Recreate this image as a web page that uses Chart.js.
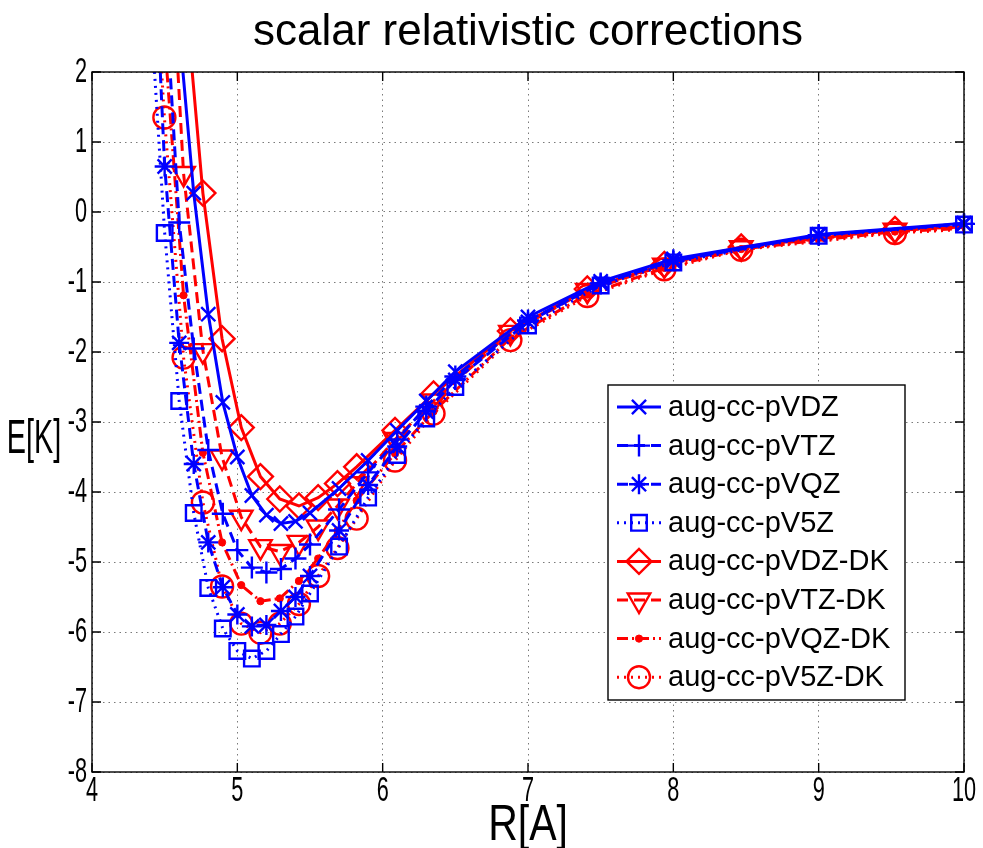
<!DOCTYPE html>
<html>
<head>
<meta charset="utf-8">
<script src="https://cdn.jsdelivr.net/npm/chart.js@4/dist/chart.umd.min.js"></script>
<style>
  html, body { margin: 0; padding: 0; background: #fff; }
  canvas { display: block; }
</style>
</head>
<body>
<canvas id="chart" width="983" height="848"></canvas>
<script>
// ── Data ─────────────────────────────────────────────────────────────────────

// non-relativistic basis sets: grid in Angstrom
const R_PLAIN = [4.4, 4.5, 4.6, 4.7, 4.8, 4.9, 5.0, 5.1, 5.2, 5.3, 5.4, 5.5,
                 5.7, 5.9, 6.1, 6.3, 6.5, 7.0, 7.5, 8.0, 9.0, 10.0];
const E_VDZ = [9.0, 5.5, 2.6, 0.27, -1.46, -2.72, -3.5, -4.05, -4.33, -4.45, -4.42, -4.3,
               -3.95, -3.55, -3.12, -2.7, -2.28, -1.5, -0.99, -0.67, -0.32, -0.16];
const E_VTZ = [7.0, 3.3, -0.15, -1.95, -3.4, -4.31, -4.83, -5.08, -5.15, -5.1, -4.95, -4.75,
               -4.25, -3.72, -3.25, -2.78, -2.35, -1.55, -1.02, -0.69, -0.33, -0.17];
const E_VQZ = [5.15, 0.65, -1.87, -3.6, -4.72, -5.36, -5.75, -5.92, -5.9, -5.7, -5.5, -5.2,
               -4.55, -3.9, -3.35, -2.85, -2.4, -1.57, -1.02, -0.7, -0.33, -0.17];
const E_V5Z = [3.0, -0.3, -2.7, -4.3, -5.37, -5.95, -6.27, -6.38, -6.27, -6.03, -5.78, -5.45,
               -4.78, -4.08, -3.47, -2.95, -2.5, -1.62, -1.05, -0.72, -0.34, -0.18];

// Douglas-Kroll basis sets: grid in bohr converted to Angstrom
const R_DK = [4.366, 4.498, 4.630, 4.763, 4.895, 5.027, 5.159, 5.292, 5.424, 5.556,
              5.689, 5.821, 6.085, 6.350, 6.879, 7.408, 7.938, 8.467, 9.525, 10.583];
const E_VDZ_DK = [12.0, 7.0, 3.4, 0.27, -1.81, -3.08, -3.78, -4.1, -4.2, -4.08,
                  -3.88, -3.64, -3.12, -2.6, -1.7, -1.1, -0.75, -0.5, -0.25, -0.17];
const E_VTZ_DK = [10.0, 5.5, 0.55, -1.98, -3.5, -4.36, -4.78, -4.85, -4.72, -4.5,
                  -4.2, -3.88, -3.25, -2.7, -1.72, -1.12, -0.76, -0.51, -0.26, -0.17];
const E_VQZ_DK = [8.0, 2.5, -1.19, -3.44, -4.72, -5.33, -5.56, -5.52, -5.27, -4.95,
                  -4.55, -4.12, -3.45, -2.85, -1.8, -1.18, -0.8, -0.53, -0.28, -0.18];
const E_V5Z_DK = [6.0, 1.35, -2.08, -4.15, -5.35, -5.88, -6.01, -5.88, -5.6, -5.2,
                  -4.8, -4.38, -3.55, -2.88, -1.83, -1.2, -0.82, -0.54, -0.3, -0.19];

const LABELS = ['aug-cc-pVDZ', 'aug-cc-pVTZ', 'aug-cc-pVQZ', 'aug-cc-pV5Z',
                'aug-cc-pVDZ-DK', 'aug-cc-pVTZ-DK', 'aug-cc-pVQZ-DK', 'aug-cc-pV5Z-DK'];
const X_TICKS = [4, 5, 6, 7, 8, 9, 10];
const Y_TICKS = [2, 1, 0, -1, -2, -3, -4, -5, -6, -7, -8];

// ── Styles ───────────────────────────────────────────────────────────────────

const BLUE = '#0000FF';
const RED = '#FF0000';
const FONT = '"Liberation Sans", Arial, sans-serif';
const NONE = 'rgba(0,0,0,0)';

const SOLID = [];
const DASHED = [11, 6];
const DOTTED = [2, 5];
const DASHDOT = [11, 4, 2, 4];
const NO_CLIP_RIGHT = { left: 0, top: 0, right: 0, bottom: 0 };

function pairs(xs, ys) {
    return xs.map((x, i) => ({ x: x, y: ys[i] }));
}

function series(label, xs, ys, color, dash, marker, radius, extra) {
    return Object.assign({
        label: label,
        data: pairs(xs, ys),
        showLine: true,
        borderColor: color,
        backgroundColor: NONE,
        borderWidth: 3,
        borderDash: dash,
        pointStyle: marker,
        pointRadius: radius,
        pointBorderWidth: 2.4,
        pointBorderColor: color,
        pointBackgroundColor: NONE,
        pointRotation: 0,
        clip: { left: 0, top: 0, right: 16, bottom: 0 }
    }, extra || {});
}

const datasets = [
    series(LABELS[0], R_PLAIN, E_VDZ, BLUE, SOLID, 'crossRot', 10),
    series(LABELS[1], R_PLAIN, E_VTZ, BLUE, DASHED, 'cross', 11),
    series(LABELS[2], R_PLAIN, E_VQZ, BLUE, DASHED, 'star', 10),
    series(LABELS[3], R_PLAIN, E_V5Z, BLUE, DOTTED, 'rect', 11),
    series(LABELS[4], R_DK, E_VDZ_DK, RED, SOLID, 'rectRot', 12.5, { clip: NO_CLIP_RIGHT }),
    series(LABELS[5], R_DK, E_VTZ_DK, RED, DASHED, 'triangle', 13, { pointRotation: 180, clip: NO_CLIP_RIGHT }),
    series(LABELS[6], R_DK, E_VQZ_DK, RED, DASHDOT, 'circle', 3.6, { pointBackgroundColor: RED, pointBorderWidth: 1, clip: NO_CLIP_RIGHT }),
    series(LABELS[7], R_DK, E_V5Z_DK, RED, DOTTED, 'circle', 11, { clip: NO_CLIP_RIGHT })
];

// ── Text helpers ─────────────────────────────────────────────────────────────

function narrowText(ctx, text, x, y, size, squeeze, align) {
    ctx.save();
    ctx.translate(x, y);
    ctx.scale(squeeze, 1);
    ctx.font = size + 'px ' + FONT;
    ctx.fillStyle = '#000';
    ctx.textAlign = align;
    ctx.textBaseline = 'middle';
    ctx.fillText(text, 0, 0);
    ctx.restore();
}

function marker(ctx, ds, x, y) {
    const opts = {
        pointStyle: ds.pointStyle,
        radius: ds.pointRadius,
        rotation: ds.pointRotation,
        borderWidth: ds.pointBorderWidth
    };
    ctx.save();
    ctx.setLineDash([]);
    ctx.strokeStyle = ds.pointBorderColor;
    ctx.fillStyle = ds.pointBackgroundColor;
    ctx.lineWidth = ds.pointBorderWidth;
    Chart.helpers.drawPoint(ctx, opts, x, y);
    ctx.restore();
}

// ── Frame, ticks, labels, legend ─────────────────────────────────────────────

const decorations = {
    id: 'decorations',
    afterDraw(chart) {
        const ctx = chart.ctx;
        const a = chart.chartArea;
        const xs = chart.scales.x;
        const ys = chart.scales.y;

        // box and inward ticks
        ctx.save();
        ctx.strokeStyle = '#000';
        ctx.lineWidth = 1.4;
        ctx.strokeRect(a.left, a.top, a.right - a.left, a.bottom - a.top);
        ctx.beginPath();
        X_TICKS.forEach(v => {
            const px = xs.getPixelForValue(v);
            ctx.moveTo(px, a.bottom); ctx.lineTo(px, a.bottom - 9);
            ctx.moveTo(px, a.top); ctx.lineTo(px, a.top + 9);
        });
        Y_TICKS.forEach(v => {
            const py = ys.getPixelForValue(v);
            ctx.moveTo(a.left, py); ctx.lineTo(a.left + 9, py);
            ctx.moveTo(a.right, py); ctx.lineTo(a.right - 9, py);
        });
        ctx.stroke();
        ctx.restore();

        // tick labels
        X_TICKS.forEach(v => narrowText(ctx, String(v), xs.getPixelForValue(v), a.bottom + 19, 35, 0.62, 'center'));
        Y_TICKS.forEach(v => narrowText(ctx, String(v), a.left - 5, ys.getPixelForValue(v), 35, 0.62, 'right'));

        // titles
        narrowText(ctx, 'scalar relativistic corrections', (a.left + a.right) / 2, 33, 44, 1, 'center');
        narrowText(ctx, 'R[A]', (a.left + a.right) / 2, 826, 50, 0.82, 'center');
        narrowText(ctx, 'E[K]', 34, 440, 48, 0.6, 'center');

        // legend box
        const box = { left: 608, top: 385, right: 905, bottom: 700 };
        ctx.save();
        ctx.fillStyle = '#fff';
        ctx.fillRect(box.left, box.top, box.right - box.left, box.bottom - box.top);
        ctx.strokeStyle = '#000';
        ctx.lineWidth = 1.4;
        ctx.strokeRect(box.left, box.top, box.right - box.left, box.bottom - box.top);
        ctx.restore();

        chart.data.datasets.forEach((ds, i) => {
            const y = 407 + i * 38.6;
            ctx.save();
            ctx.strokeStyle = ds.borderColor;
            ctx.lineWidth = ds.borderWidth;
            ctx.setLineDash(ds.borderDash);
            ctx.beginPath();
            ctx.moveTo(617, y);
            ctx.lineTo(661, y);
            ctx.stroke();
            ctx.restore();
            marker(ctx, ds, 639, y);
            narrowText(ctx, ds.label, 668, y + 1, 29, 1, 'left');
        });
    }
};

// ── Chart ────────────────────────────────────────────────────────────────────

function gridAxis(min, max, fitKey, fitVal) {
    return {
        type: 'linear',
        min: min,
        max: max,
        ticks: { stepSize: 1, display: false },
        grid: { color: '#7a7a7a', lineWidth: 1, drawTicks: false },
        border: { display: false, dash: [1.5, 4] },
        afterFit: s => { s[fitKey] = fitVal; }
    };
}

new Chart(document.getElementById('chart'), {
    type: 'scatter',
    data: { datasets: datasets },
    options: {
        responsive: false,
        animation: false,
        layout: { padding: { top: 72, right: 19, left: 0, bottom: 0 } },
        plugins: {
            legend: { display: false },
            tooltip: { enabled: false }
        },
        scales: {
            x: gridAxis(4, 10, 'height', 76),
            y: gridAxis(-8, 2, 'width', 92)
        }
    },
    plugins: [decorations]
});
</script>
</body>
</html>
